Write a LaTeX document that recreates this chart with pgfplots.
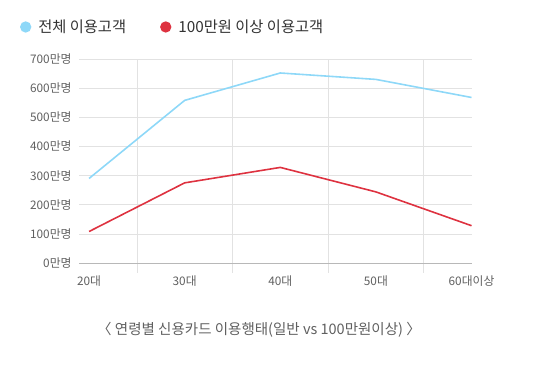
\documentclass[border=0pt]{standalone}
\usepackage{fontspec}
\setmainfont{Noto Sans CJK KR}
\usepackage{pgfplots}
\pgfplotsset{compat=1.18}
\definecolor{cblue}{HTML}{8ED8F8}
\definecolor{cred}{HTML}{DE3240}
\definecolor{tgray}{HTML}{606060}
\definecolor{ggray}{HTML}{E2E2E2}
\begin{document}
\begin{tikzpicture}
\useasboundingbox (0,0) rectangle (534bp,369bp);
\begin{axis}[
  at={(79bp,106bp)}, anchor=south west,
  scale only axis, width=393bp, height=204bp,
  xmin=-0.105, xmax=4.005, ymin=0, ymax=700,
  xtick={0,1,2,3,4},
  xticklabels={20대,30대,40대,50대,60대이상},
  minor xtick={0.5,1.5,2.5,3.5},
  ytick={0,100,200,300,400,500,600,700},
  yticklabels={0만명,100만명,200만명,300만명,400만명,500만명,600만명,700만명},
  /pgf/number format/assume math mode=true,
  axis x line*=bottom, axis y line*=left,
  x axis line style={draw=black!28, line width=0.8pt},
  y axis line style={draw=none},
  ymajorgrids, xminorgrids,
  major grid style={ggray, line width=0.7pt},
  minor grid style={ggray, line width=0.7pt},
  major tick length=0pt, minor tick length=10bp,
  tick align=outside,
  minor tick style={ggray, line width=0.7pt},
  ytick style={draw=none},
  ticklabel style={font=\fontsize{11.8bp}{13bp}\selectfont, text=tgray},
  yticklabel style={xshift=-4bp},
  xticklabel style={yshift=-9bp},
  legend style={draw=none, at={(-0.158,1.157)}, anchor=west,
    font=\fontsize{15.3bp}{17bp}\selectfont, text=black!80,
    column sep=5bp,
    /tikz/every even column/.append style={column sep=32bp}},
  legend columns=2,
  legend image code/.code={\fill[#1] (0.25em,0) circle (4.8bp);},
  legend cell align=left,
]
\addplot[cblue, line width=1.6pt] coordinates {(0,290) (1,558) (2,652) (3,630) (4,568)};
\addlegendentry{전체 이용고객}
\addplot[cred, line width=1.6pt] coordinates {(0,108) (1,275) (2,328) (3,244) (4,128)};
\addlegendentry{100만원 이상 이용고객}
\end{axis}
\node[text=tgray, font=\fontsize{14.5bp}{16bp}\selectfont] at (259bp,39bp) {〈 연령별 신용카드 이용행태(일반 vs 100만원이상) 〉};
\end{tikzpicture}
\end{document}
